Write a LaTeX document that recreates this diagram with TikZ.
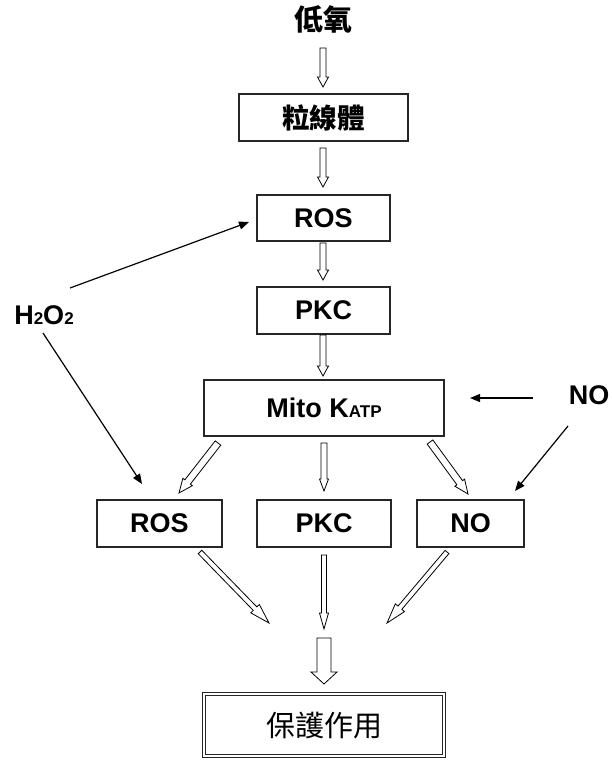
\documentclass[tikz,border=0pt]{standalone}
\usepackage{fontspec}
\setmainfont{Liberation Sans}
\newfontfamily\cjk{Noto Sans CJK TC}
\usetikzlibrary{calc,arrows.meta}
\tikzset{
  box/.style={draw=black!85, line width=1.2pt, inner sep=0pt, font=\fontsize{27}{27}\selectfont\bfseries},
  lbl/.style={inner sep=0pt, font=\fontsize{27}{27}\selectfont\bfseries},
  hollow/.style={draw=black, line width=0.8pt, fill=white, line join=miter},
  thin/.style={draw=black, line width=1.2pt, -{Triangle[length=10pt,width=8pt]}}
}
\newcommand\smallsz{\fontsize{17}{17}\selectfont}
% hollow block arrow: from, to, half shaft, half head, head length
\newcommand\harrow[5]{%
  \draw[hollow] ($(#1)!#3!90:(#2)$) -- ($(#2)!#5!(#1)!#3!-90:(#1)$) -- ($(#2)!#5!(#1)!#4!-90:(#1)$) -- (#2) -- ($(#2)!#5!(#1)!#4!90:(#1)$) -- ($(#2)!#5!(#1)!#3!90:(#1)$) -- ($(#1)!#3!-90:(#2)$) -- cycle;}
\begin{document}
\begin{tikzpicture}[x=1pt,y=-1pt]
\useasboundingbox (0,0) rectangle (611,760);
% nodes
\node[lbl, font=\fontsize{29}{29}\selectfont\cjk\bfseries] (hyp) at (323,19) {低氧};
\node[box, minimum width=169pt, minimum height=47pt, font=\fontsize{27.5}{27.5}\selectfont\cjk\bfseries] (mit) at (323.5,117.5) {粒線體};
\node[box, minimum width=133pt, minimum height=46pt] (ros1) at (323.5,218) {ROS};
\node[box, minimum width=133pt, minimum height=47pt] (pkc1) at (323.5,310.5) {PKC};
\node[box, minimum width=240pt, minimum height=56pt] (katp) at (324,408) {Mito K{\smallsz ATP}};
\node[box, minimum width=125pt, minimum height=47pt] (ros2) at (159.5,523.5) {ROS};
\node[box, minimum width=134pt, minimum height=47pt] (pkc2) at (324,523.5) {PKC};
\node[box, minimum width=107pt, minimum height=47pt] (no2) at (470.5,523.5) {NO};
\node[lbl] (h2o2) at (44,315) {H{\smallsz 2}O{\smallsz 2}};
\node[lbl] (no1) at (589,395) {NO};
\node[draw=black!85, line width=0.9pt, double=white, double distance=2pt, minimum width=240pt, minimum height=62pt, inner sep=0pt, font=\fontsize{29}{29}\selectfont\cjk] (prot) at (324,725) {保護作用};
% free ends
\coordinate (a1s) at (323,48);   \coordinate (a1e) at (323,87);
\coordinate (a2s) at (323,148);  \coordinate (a2e) at (323,187);
\coordinate (a3s) at (323,243);  \coordinate (a3e) at (323,280);
\coordinate (a4s) at (323,335);  \coordinate (a4e) at (323,376);
\coordinate (m1s) at (218,443);  \coordinate (m1e) at (179,493);
\coordinate (m2s) at (324,443);  \coordinate (m2e) at (324,491);
\coordinate (m3s) at (430,442);  \coordinate (m3e) at (468,494);
\coordinate (b1s) at (200,552);  \coordinate (b1e) at (269,623);
\coordinate (b2s) at (324,555);  \coordinate (b2e) at (324,629);
\coordinate (b3s) at (447,552);  \coordinate (b3e) at (387,623);
\coordinate (bgs) at (324,638);  \coordinate (bge) at (324,684);
\coordinate (h1s) at (70,288);   \coordinate (h1e) at (249,222);
\coordinate (h2s) at (43,333);   \coordinate (h2e) at (142,484);
\coordinate (n1s) at (533,398);  \coordinate (n1e) at (470,398);
\coordinate (n2s) at (568,426);  \coordinate (n2e) at (515,491);
% hollow arrows
\harrow{a1s}{a1e}{3pt}{5.5pt}{10pt}
\harrow{a2s}{a2e}{3pt}{5.5pt}{10pt}
\harrow{a3s}{a3e}{3pt}{5.5pt}{10pt}
\harrow{a4s}{a4e}{3pt}{5.5pt}{10pt}
\harrow{m1s}{m1e}{3.5pt}{6pt}{14pt}
\harrow{m2s}{m2e}{3pt}{4.5pt}{12pt}
\harrow{m3s}{m3e}{3.5pt}{6pt}{14pt}
\harrow{b1s}{b1e}{2.5pt}{6pt}{20pt}
\harrow{b2s}{b2e}{2.5pt}{4.5pt}{16pt}
\harrow{b3s}{b3e}{2.5pt}{6pt}{20pt}
\harrow{bgs}{bge}{7pt}{13pt}{12pt}
% thin arrows
\draw[thin] (h1s) -- (h1e);
\draw[thin] (h2s) -- (h2e);
\draw[thin] (n1s) -- (n1e);
\draw[thin] (n2s) -- (n2e);
\end{tikzpicture}
\end{document}
